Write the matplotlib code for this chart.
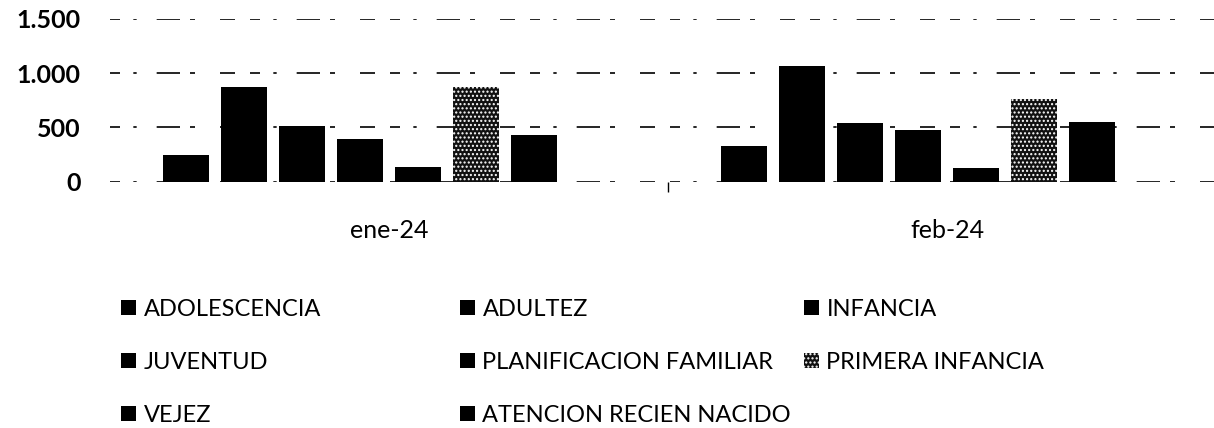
"""Grouped bar chart: atenciones por curso de vida, ene-24 / feb-24."""

import matplotlib
matplotlib.use("Agg")
import matplotlib.pyplot as plt
import numpy as np
from matplotlib.ticker import FixedLocator, FuncFormatter

months = ["ene-24", "feb-24"]
series = [
    "ADOLESCENCIA",
    "ADULTEZ",
    "INFANCIA",
    "JUVENTUD",
    "PLANIFICACION FAMILIAR",
    "PRIMERA INFANCIA",
    "VEJEZ",
    "ATENCION RECIEN NACIDO",
]
ene_24 = [243, 873, 513, 391, 134, 873, 427, 0]
feb_24 = [325, 1068, 541, 474, 124, 759, 548, 0]
y_ticks = [0, 500, 1000, 1500]

values = np.array([ene_24, feb_24])  # shape (month, series)

plt.rcParams["font.family"] = ["Lato", "DejaVu Sans"]
plt.rcParams["hatch.color"] = "white"
plt.rcParams["hatch.linewidth"] = 1.0

W, H = 1214, 428
fig = plt.figure(figsize=(W / 100, H / 100), dpi=100)
ax = fig.add_axes([110 / W, (H - 181.5) / H, (W - 110) / W, (181.5 - 19) / H])

x = np.arange(len(months))
pitch = 0.104
width = 0.0824
bars = []
for i, name in enumerate(series):
    kw = {"color": "black", "linewidth": 0}
    if name == "PRIMERA INFANCIA":
        kw.update(color="#111111", hatch="....")
    b = ax.bar(x + (i - 3.5) * pitch, values[:, i], width, label=name, **kw)
    bars.append(b)

ax.set_xlim(-0.5, -0.5 + (W - 110) / 558)
ax.set_ylim(0, 1500)

# broken, scan-like gridlines
ax.set_axisbelow(True)
ax.yaxis.set_major_locator(FixedLocator(y_ticks))
ax.yaxis.set_major_formatter(FuncFormatter(lambda v, _: f"{v:,.0f}".replace(",", ".")))
ax.yaxis.grid(True, color="black", linewidth=1.2,
              linestyle=(0, (6, 8, 2, 12, 14, 6, 3, 15, 9, 9)))
ax.tick_params(axis="y", length=0, pad=21, labelsize=18)
for lab in ax.get_yticklabels():
    lab.set_fontweight("bold")

ax.set_xticks(x)
ax.set_xticklabels(months)
ax.xaxis.set_minor_locator(FixedLocator([0.5]))
ax.tick_params(axis="x", which="major", length=0, pad=27, labelsize=18)
ax.tick_params(axis="x", which="minor", length=7, width=1, color="black")

for s in ax.spines.values():
    s.set_visible(False)

# legend: three equal-width columns, filled row by row
ncol = 3
col_x = [121, 460, 804]
for c in range(ncol):
    idx = list(range(c, len(series), ncol))
    fig.legend(
        [bars[i] for i in idx],
        [series[i] for i in idx],
        loc="upper left",
        bbox_to_anchor=(col_x[c] / W, (H - 299) / H),
        frameon=False,
        fontsize=17,
        handlelength=0.65,
        handleheight=0.6,
        handletextpad=0.3,
        labelspacing=1.35,
        borderpad=0,
        borderaxespad=0,
    )

fig.savefig("out.png", dpi=100)
